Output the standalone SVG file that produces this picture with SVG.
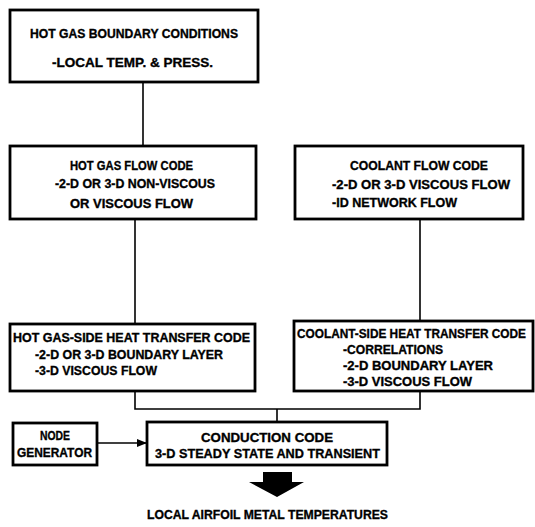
<svg xmlns="http://www.w3.org/2000/svg" width="535" height="527" viewBox="0 0 535 527">
<style>
.box{fill:#fff;stroke:#000;stroke-width:2.8}
.ln{fill:none;stroke:#000;stroke-width:1.6}
text{font-family:"Liberation Sans","DejaVu Sans",sans-serif;font-weight:bold;font-size:13px;fill:#000;stroke:#000;stroke-width:0.35}
</style>
<defs>
<marker id="ah" markerWidth="10" markerHeight="8" refX="9" refY="4" orient="auto" markerUnits="userSpaceOnUse">
<path d="M0,0 L10,4 L0,8 Z" fill="#000"/>
</marker>
</defs>
<rect width="535" height="527" fill="#fff"/>
<g id="connectors">
<path class="ln" d="M143,82 V146"/>
<path class="ln" d="M135,219 V324"/>
<path class="ln" d="M420,219 V321"/>
<path class="ln" d="M135,391 V409 H420 V391"/>
<path class="ln" d="M277,409 V422"/>
<path class="ln" d="M97,443 H146" marker-end="url(#ah)"/>
<path d="M263,472 H292 V482 H304 L277,497 L249,482 H263 Z" fill="#000"/>
</g>
<g id="n1">
<rect class="box" x="10" y="10" width="248" height="72"/>
<text x="30" y="38" textLength="208" lengthAdjust="spacingAndGlyphs">HOT GAS BOUNDARY CONDITIONS</text>
<text x="52" y="67" textLength="161" lengthAdjust="spacingAndGlyphs">-LOCAL TEMP. &amp; PRESS.</text>
</g>
<g id="n2">
<rect class="box" x="10" y="146" width="246" height="73"/>
<text x="70" y="170" textLength="123" lengthAdjust="spacingAndGlyphs">HOT GAS FLOW CODE</text>
<text x="55" y="188" textLength="160" lengthAdjust="spacingAndGlyphs">-2-D OR 3-D NON-VISCOUS</text>
<text x="70" y="208" textLength="123" lengthAdjust="spacingAndGlyphs">OR VISCOUS FLOW</text>
</g>
<g id="n3">
<rect class="box" x="295" y="146" width="228" height="73"/>
<text x="350" y="170" textLength="138" lengthAdjust="spacingAndGlyphs">COOLANT FLOW CODE</text>
<text x="332" y="189" textLength="178" lengthAdjust="spacingAndGlyphs">-2-D OR 3-D VISCOUS FLOW</text>
<text x="332" y="207" textLength="125" lengthAdjust="spacingAndGlyphs">-ID NETWORK FLOW</text>
</g>
<g id="n4">
<rect class="box" x="10" y="324" width="245" height="67"/>
<text x="13" y="342" textLength="237" lengthAdjust="spacingAndGlyphs">HOT GAS-SIDE HEAT TRANSFER CODE</text>
<text x="35" y="359" textLength="188" lengthAdjust="spacingAndGlyphs">-2-D OR 3-D BOUNDARY LAYER</text>
<text x="35" y="375" textLength="122" lengthAdjust="spacingAndGlyphs">-3-D VISCOUS FLOW</text>
</g>
<g id="n5">
<rect class="box" x="294" y="321" width="239" height="70"/>
<text x="297" y="338" font-size="11.8" textLength="229" lengthAdjust="spacingAndGlyphs">COOLANT-SIDE HEAT TRANSFER CODE</text>
<text x="343" y="354" textLength="100" lengthAdjust="spacingAndGlyphs">-CORRELATIONS</text>
<text x="343" y="370" textLength="150" lengthAdjust="spacingAndGlyphs">-2-D BOUNDARY LAYER</text>
<text x="343" y="386" textLength="129" lengthAdjust="spacingAndGlyphs">-3-D VISCOUS FLOW</text>
</g>
<g id="n6">
<rect class="box" x="13" y="423" width="84" height="42"/>
<text x="40" y="440" textLength="30" lengthAdjust="spacingAndGlyphs">NODE</text>
<text x="17" y="457" textLength="75" lengthAdjust="spacingAndGlyphs">GENERATOR</text>
</g>
<g id="n7">
<rect class="box" x="147" y="422" width="240" height="43"/>
<text x="201" y="442" textLength="132" lengthAdjust="spacingAndGlyphs">CONDUCTION CODE</text>
<text x="155" y="458" textLength="225" lengthAdjust="spacingAndGlyphs">3-D STEADY STATE AND TRANSIENT</text>
</g>
<g id="n8">
<text x="147" y="519" textLength="241" lengthAdjust="spacingAndGlyphs">LOCAL AIRFOIL METAL TEMPERATURES</text>
</g>
</svg>
